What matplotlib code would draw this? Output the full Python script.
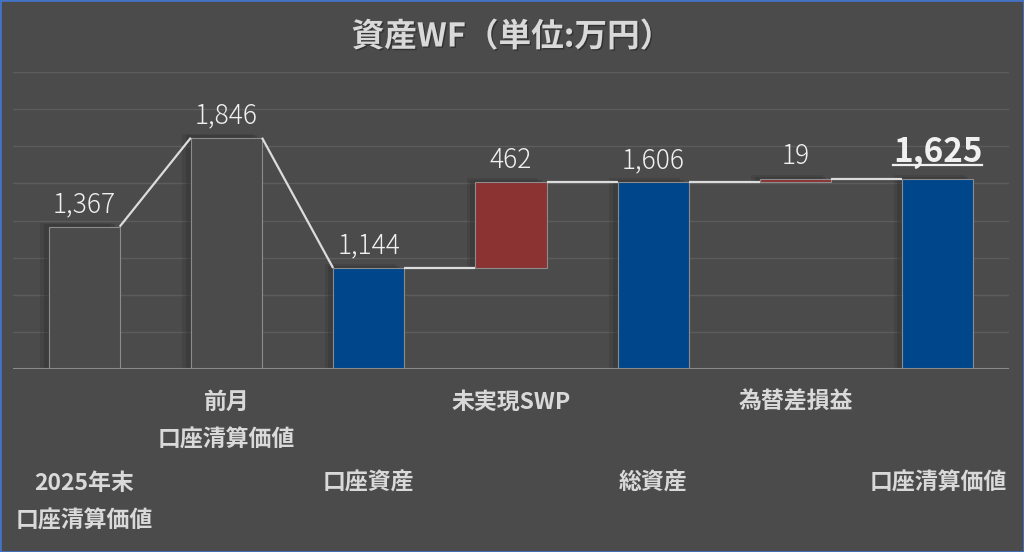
import matplotlib
matplotlib.use("Agg")
import matplotlib.pyplot as plt
import matplotlib.patheffects as pe
from matplotlib.transforms import blended_transform_factory

plt.rcParams['font.family'] = ['Noto Sans CJK JP', 'DejaVu Sans']

# data
categories = ["2025年末\n口座清算価値", "前月\n口座清算価値", "口座資産", "未実現SWP",
              "総資産", "為替差損益", "口座清算価値"]
values = [1367, 1846, 1144, 462, 1606, 19, 1625]
kinds = ["total", "total", "total", "delta", "total", "delta", "total"]
title = "資産WF（単位:万円）"

bg = "#4b4b4b"
blue = "#00468b"
red = "#8b3333"
txt = "#d9d9d9"

fig = plt.figure(figsize=(10.24, 5.52), dpi=100, facecolor=bg)
ax = fig.add_axes([13 / 1024, 183 / 552, 996 / 1024, 297 / 552], facecolor=bg)

# bottoms / tops of each bar
bottoms, tops = [], []
level = 0
for v, k in zip(values, kinds):
    if k == "total":
        bottoms.append(600)
        tops.append(v)
        level = v
    else:
        bottoms.append(level)
        level = level + v
        tops.append(level)

width = 0.5
x = list(range(len(values)))

# soft shadows behind the bars
for i in x:
    for dx, dy, a in [(0.06, 22, 0.2), (0.035, 12, 0.3)]:
        ax.bar(i - dx, tops[i] - bottoms[i] + dy, width, bottom=bottoms[i],
               color="#2a2a2a", alpha=a, zorder=1, linewidth=0)

for i in x:
    if i < 2:
        fc = bg
    elif kinds[i] == "total":
        fc = blue
    else:
        fc = red
    ax.bar(i, tops[i] - bottoms[i], width, bottom=bottoms[i], color=fc,
           edgecolor="#8c8c8c", linewidth=0.8, zorder=3)

# connectors
for i in range(len(values) - 1):
    y0 = tops[i]
    y1 = tops[i + 1] if kinds[i + 1] == "total" else bottoms[i + 1]
    ax.plot([i + width / 2, i + 1 - width / 2], [y0, y1], color="#dcdcdc",
            linewidth=1.6, zorder=4, solid_capstyle="butt")

# value labels
for i in x:
    s = f"{values[i]:,}"
    if i == len(values) - 1:
        ax.annotate(s, (i, tops[i]), xytext=(0, 7), textcoords="offset points",
                    ha="center", va="bottom", fontsize=24, fontweight="bold",
                    color="#f0f0f0", zorder=5)
        ax.plot([i - 0.313, i + 0.313], [1700, 1700], color="#f0f0f0", linewidth=1.6,
                zorder=5)
    else:
        ax.annotate(s, (i, tops[i]), xytext=(0, 6), textcoords="offset points",
                    ha="center", va="bottom", fontsize=19, fontweight="light",
                    color="#f0f0f0", zorder=5)

# axes styling
ax.set_xlim(-0.5, 6.5)
ax.set_ylim(600, 2200)
ax.set_yticks(range(600, 2201, 200))
ax.yaxis.grid(True, color="#5c5c5c", linewidth=1)
ax.set_axisbelow(True)
ax.axhline(600, color="#8a8a8a", linewidth=1.5, zorder=4)
ax.tick_params(left=False, bottom=False, labelleft=False, labelbottom=False)
for sp in ax.spines.values():
    sp.set_visible(False)

# staggered category labels
tr = blended_transform_factory(ax.transData, fig.transFigure)
for i, c in enumerate(categories):
    lines = c.split("\n")
    y0 = 402 if i % 2 == 1 else 483
    for j, ln in enumerate(lines):
        ax.text(i, 1 - (y0 + j * 38) / 552, ln, transform=tr, ha="center",
                va="center", fontsize=16.5, fontweight="bold", color=txt)

fig.text(0.5, 1 - 37 / 552, title, ha="center", va="center", fontsize=23.5,
         fontweight="bold", color=txt,
         path_effects=[pe.withSimplePatchShadow(offset=(1, -1), shadow_rgbFace="#222222", alpha=0.6)])

# border
fig.patches.append(plt.Rectangle((0, 0), 1, 1, transform=fig.transFigure, fill=False,
                                 edgecolor="#4472c4", linewidth=2))

fig.savefig("out.png", dpi=100, facecolor=bg)
